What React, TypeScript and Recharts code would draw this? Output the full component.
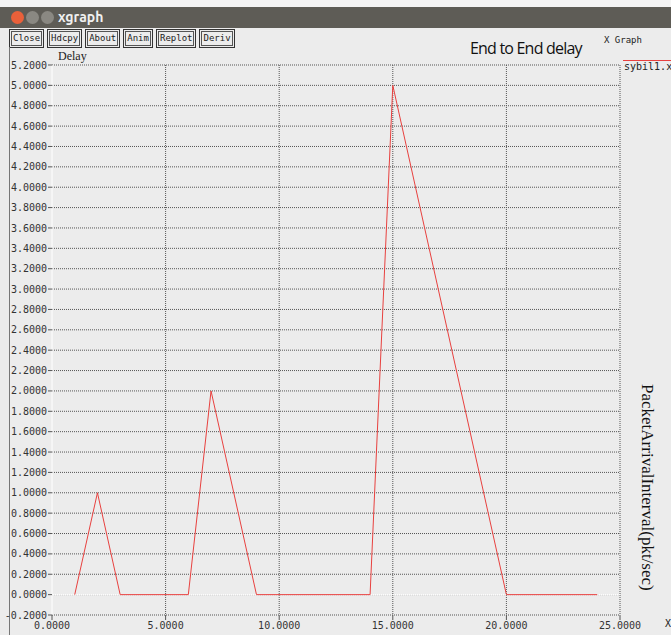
import React from "react";
import { LineChart, Line, XAxis, YAxis, CartesianGrid, ReferenceLine } from "recharts";

const xValues = [1, 2, 3, 6, 7, 9, 14, 15, 20, 24];
const delayValues = [0, 1, 0, 0, 2, 0, 0, 5, 0, 0];
const xTicks = [0, 5, 10, 15, 20, 25];
const yTicks = [-0.2, 0, 0.2, 0.4, 0.6, 0.8, 1.0, 1.2, 1.4, 1.6, 1.8, 2.0, 2.2, 2.4, 2.6, 2.8, 3.0, 3.2, 3.4, 3.6, 3.8, 4.0, 4.2, 4.4, 4.6, 4.8, 5.0, 5.2];
const buttons = ["Close", "Hdcpy", "About", "Anim", "Replot", "Deriv"];

const data = xValues.map((x, i) => ({ x, y: delayValues[i] }));

const mono = "'DejaVu Sans Mono', 'Liberation Mono', monospace";

export default function App() {
  return (
    <div style={{ position: "absolute", left: 0, top: 0, width: 671, height: 635, background: "#ececec", overflow: "hidden" }}>
      {/* title bar */}
      <div style={{ position: "absolute", left: 0, top: 0, width: 671, height: 7, background: "#f4f4f4" }} />
      <div style={{ position: "absolute", left: 0, top: 7, width: 671, height: 21, background: "#5e5c56" }} />
      <div style={{ position: "absolute", left: 11, top: 11, width: 13, height: 13, borderRadius: 7, background: "#e9603a" }} />
      <div style={{ position: "absolute", left: 26, top: 11, width: 13, height: 13, borderRadius: 7, background: "#8a8882" }} />
      <div style={{ position: "absolute", left: 41, top: 11, width: 13, height: 13, borderRadius: 7, background: "#8a8882" }} />
      <div style={{ position: "absolute", left: 58, top: 9, color: "#f0f0f0", fontFamily: "Ubuntu, 'DejaVu Sans', sans-serif", fontWeight: "bold", fontSize: 14 }}>xgraph</div>
      {/* buttons */}
      <div style={{ position: "absolute", left: 9, top: 29, display: "flex", gap: 3 }}>
        {buttons.map((b) => (
          <div key={b} style={{ border: "1px solid #333", padding: 1, background: "#ececec" }}>
            <div style={{ border: "1px solid #555", padding: "0 1px", fontFamily: mono, fontSize: 9, lineHeight: "13px", color: "#222" }}>{b}</div>
          </div>
        ))}
      </div>
      <div style={{ position: "absolute", left: 9, top: 47, width: 1, height: 588, background: "#777" }} />
      <div style={{ position: "absolute", left: 58, top: 49, fontFamily: "'Liberation Serif', serif", fontSize: 12, color: "#222" }}>Delay</div>
      <div style={{ position: "absolute", left: 470, top: 37, fontFamily: "'Open Sans', sans-serif", fontSize: 16, color: "#111", letterSpacing: -0.8 }}>End to End delay</div>
      <div style={{ position: "absolute", left: 604, top: 35, fontFamily: mono, fontSize: 9, color: "#222" }}>X Graph</div>
      <div style={{ position: "absolute", left: 623, top: 60, width: 48, height: 1, background: "#e8413f" }} />
      <div style={{ position: "absolute", left: 624, top: 61, fontFamily: mono, fontSize: 10, color: "#222", whiteSpace: "nowrap" }}>sybil1.xg</div>
      <div style={{ position: "absolute", left: 637, top: 384, writingMode: "vertical-rl", fontFamily: "'Liberation Serif', serif", fontSize: 17, color: "#111", whiteSpace: "nowrap" }}>PacketArrivalInterval(pkt/sec)</div>
      <div style={{ position: "absolute", left: 665, top: 618, fontFamily: mono, fontSize: 10, color: "#222" }}>X</div>
      <div style={{ position: "absolute", left: 0, top: 0 }}>
        <LineChart width={671} height={635} data={data} margin={{ top: 65, right: 51, bottom: 0, left: 0 }}>
          <CartesianGrid stroke="#555" strokeDasharray="1 1" horizontalValues={yTicks} verticalValues={[5, 10, 15, 20, 25]} />
          <XAxis
            dataKey="x"
            type="number"
            domain={[0, 25]}
            ticks={xTicks}
            allowDataOverflow
            height={20}
            axisLine={false}
            tickLine={{ stroke: "#555" }}
            tickSize={5}
            tickMargin={2}
            tick={{ fontFamily: mono, fontSize: 10, fill: "#333" }}
            tickFormatter={(v: number) => v.toFixed(4)}
          />
          <XAxis
            xAxisId="top"
            orientation="top"
            type="number"
            domain={[0, 25]}
            ticks={[5, 10, 15, 20, 25]}
            height={0}
            axisLine={false}
            tickLine={{ stroke: "#555" }}
            tickSize={6}
            tick={{ fontSize: 0 }}
            tickFormatter={() => ""}
          />
          <YAxis
            type="number"
            domain={[-0.2, 5.2]}
            ticks={yTicks}
            interval={0}
            allowDataOverflow
            width={52}
            axisLine={false}
            tickLine={{ stroke: "#555" }}
            tickSize={4}
            tickMargin={1}
            tick={{ fontFamily: mono, fontSize: 10, fill: "#333" }}
            tickFormatter={(v: number) => v.toFixed(4)}
          />
          <ReferenceLine y={0} stroke="#ffffff" strokeWidth={1} />
          <ReferenceLine x={0} stroke="#ffffff" strokeWidth={1} />
          <Line type="linear" dataKey="y" stroke="#e8413f" strokeWidth={1} dot={false} isAnimationActive={false} />
        </LineChart>
      </div>
    </div>
  );
}
